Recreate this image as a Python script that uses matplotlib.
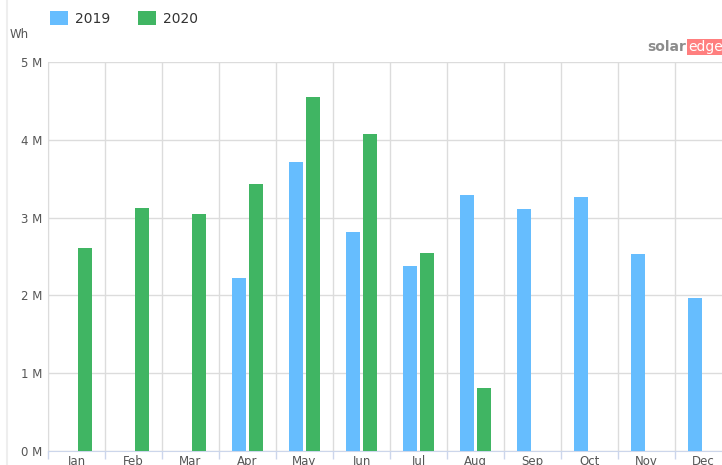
import numpy as np
import matplotlib
matplotlib.use("Agg")
import matplotlib.pyplot as plt

months = ["Jan", "Feb", "Mar", "Apr", "May", "Jun",
          "Jul", "Aug", "Sep", "Oct", "Nov", "Dec"]
# monthly energy in Wh (millions)
wh_2019 = [np.nan, np.nan, np.nan, 2.22, 3.71, 2.81, 2.38, 3.29, 3.11, 3.26, 2.53, 1.97]
wh_2020 = [2.61, 3.12, 3.05, 3.43, 4.55, 4.07, 2.54, 0.81, np.nan, np.nan, np.nan, np.nan]
y_ticks = [0, 1, 2, 3, 4, 5]

c2019 = "#66bdfe"
c2020 = "#40b563"
grid_c = "#dcdcdc"
text_c = "#555555"

W, H = 722, 465
fig = plt.figure(figsize=(W / 100, H / 100), dpi=100, facecolor="white")
# plot area runs off the right edge, as in the screenshot
ax = fig.add_axes([48 / W, 14 / H, 684 / W, 389 / H])

x = np.arange(len(months))
off, bw = 0.15, 0.245
b1 = ax.bar(x - off, np.array(wh_2019) * 1e6, bw, color=c2019, label="2019", zorder=3)
b2 = ax.bar(x + off, np.array(wh_2020) * 1e6, bw, color=c2020, label="2020", zorder=3)

ax.set_xlim(-0.5, len(months) - 0.5)
ax.set_ylim(0, 5e6)
ax.set_yticks([v * 1e6 for v in y_ticks])
ax.set_yticklabels(["%d M" % v for v in y_ticks], color=text_c, fontsize=8.5)
ax.set_xticks(x)
ax.set_xticklabels(months, color=text_c, fontsize=8.5)
ax.tick_params(axis="x", length=0, pad=3)
ax.tick_params(axis="y", length=0, pad=4)
# category boundaries: grid lines and small ticks below the axis
ax.set_xticks(np.arange(-0.5, len(months)), minor=True)
ax.tick_params(axis="x", which="minor", length=6, color="#ccd6eb", width=1)
ax.grid(axis="y", color=grid_c, lw=1, zorder=0)
ax.grid(axis="x", which="minor", color=grid_c, lw=1, zorder=0)
for s in ["top", "right"]:
    ax.spines[s].set_visible(False)
ax.spines["left"].set_color(grid_c)
ax.spines["bottom"].set_color("#ccd6eb")

fig.text(10 / W, 1 - 34 / H, "Wh", color=text_c, fontsize=8.5, va="center")

fig.legend(handles=[b1, b2], labels=["2019", "2020"], loc="upper left",
           bbox_to_anchor=(37 / W, 1 + 1 / H), ncol=2, frameon=False,
           fontsize=10, handlelength=1.3, handleheight=1.1, columnspacing=2.0,
           handletextpad=0.5, labelcolor="#333333")

fig.text(686 / W, 1 - 47 / H, "solar", color="#8c8c8c", fontsize=10,
         fontweight="bold", ha="right", va="center")
fig.text(688 / W, 1 - 47 / H, "edge", color="white", fontsize=10,
         ha="left", va="center",
         bbox=dict(boxstyle="square,pad=0.08", fc="#ff7f7f", ec="none"))

fig.add_artist(plt.Line2D([7 / W, 7 / W], [0, 1], color="#eeeeee", lw=1.5))

fig.savefig("out.png", dpi=100)
